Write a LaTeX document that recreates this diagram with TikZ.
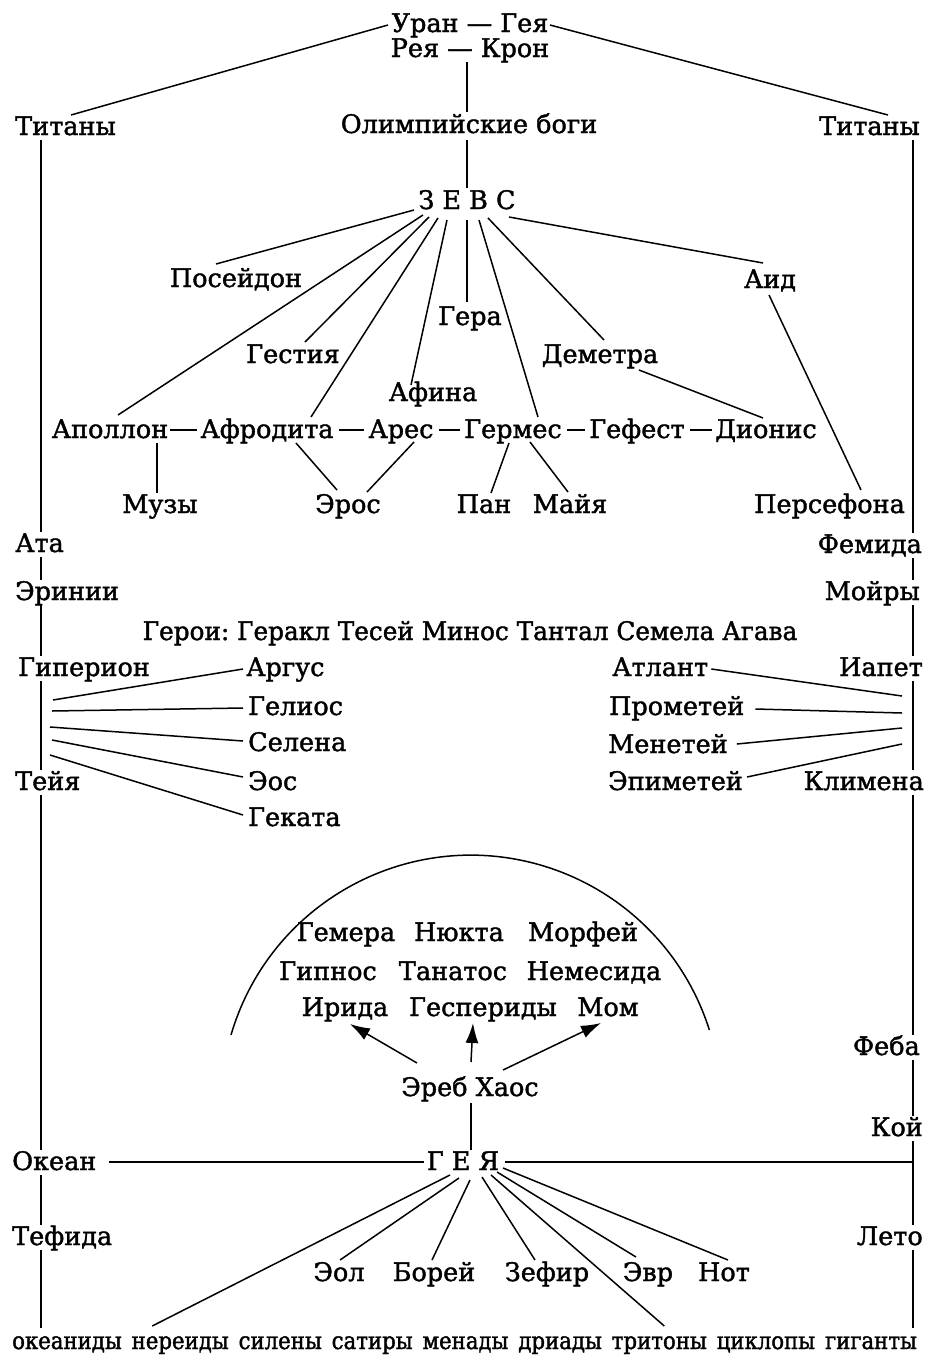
\documentclass[tikz,border=0pt]{standalone}
\usepackage{fontspec}
\setmainfont{DejaVu Serif}[FakeBold=1.5]
\newfontfamily\condf{DejaVu Serif}[FakeStretch=0.885,FakeBold=1.5]
\newfontfamily\geroif{DejaVu Serif}[FakeStretch=0.97,FakeBold=1.5]
\usetikzlibrary{arrows.meta}
\newcommand\myfsz{\fontsize{25.5}{30}\selectfont}
\frenchspacing
\begin{document}
\begin{tikzpicture}[x=1pt,y=1pt,
  lbl/.style={inner sep=0pt,font=\myfsz,anchor=base},
  lw/.style={lbl,anchor=base west},
  le/.style={lbl,anchor=base east},
  bot/.style={inner sep=0pt,font=\condf\fontsize{24}{28}\selectfont,anchor=base west},
  con/.style={draw=black,line width=1.5pt},
  arr/.style={con,-{Latex[length=20pt,width=13pt]}}]
\fill[white] (0,-1360) rectangle (926,0);
\useasboundingbox (0,-1360) rectangle (926,0);
% top
\node[lbl] (uran) at (470,-32) {Уран — Гея};
\node[lbl] (reya) at (470,-57) {Рея — Крон};
\node[lw] (titL) at (15,-135) {Титаны};
\node[lbl] (olymp) at (469,-133) {Олимпийские боги};
\node[le] (titR) at (920,-135) {Титаны};
\node[lbl] (zeus) at (467,-209) {З Е В С};
\node[lbl] (posei) at (236,-287) {Посейдон};
\node[lbl] (aid) at (770,-288) {Аид};
\node[lbl] (gera) at (470,-325) {Гера};
\node[lbl] (gestia) at (293,-363) {Гестия};
\node[lbl] (demetra) at (600,-363) {Деметра};
\node[lbl] (afina) at (433,-401) {Афина};
\node[lbl] (apollon) at (110,-438) {Аполлон};
\node[lbl] (afrodita) at (267,-438) {Афродита};
\node[lbl] (ares) at (401,-438) {Арес};
\node[lbl] (germes) at (513,-438) {Гермес};
\node[lbl] (gefest) at (637,-438) {Гефест};
\node[lbl] (dionis) at (766,-438) {Дионис};
\node[lbl] (muzy) at (160,-513) {Музы};
\node[lbl] (eros) at (348,-513) {Эрос};
\node[lbl] (pan) at (484,-513) {Пан};
\node[lbl] (maya) at (570,-513) {Майя};
\node[le] (persefona) at (905,-513) {Персефона};
\node[lw] (ata) at (15,-552) {Ата};
\node[le] (femida) at (922,-553) {Фемида};
\node[lw] (erinii) at (15,-600) {Эринии};
\node[le] (moiry) at (920,-600) {Мойры};
\node[lbl,font=\geroif\myfsz] (geroi) at (470,-640) {Герои: Геракл Тесей Минос Тантал Семела Агава};
\node[lw] (giperion) at (18,-676) {Гиперион};
\node[lw] (argus) at (246,-676) {Аргус};
\node[lw] (atlant) at (612,-676) {Атлант};
\node[le] (iapet) at (923,-676) {Иапет};
\node[lw] (gelios) at (248,-715) {Гелиос};
\node[lw] (prometey) at (609,-715) {Прометей};
\node[lw] (selena) at (248,-751) {Селена};
\node[lw] (menetey) at (608,-753) {Менетей};
\node[lw] (teiya) at (15,-790) {Тейя};
\node[lw] (eos) at (248,-790) {Эос};
\node[lw] (epimetey) at (608,-790) {Эпиметей};
\node[le] (klimena) at (924,-790) {Климена};
\node[lw] (gekata) at (248,-826) {Геката};
% arc group
\node[lbl] (gemera) at (346,-941) {Гемера};
\node[lbl] (nyukta) at (459,-941) {Нюкта};
\node[lbl] (morfey) at (583,-941) {Морфей};
\node[lbl] (gipnos) at (328,-980) {Гипнос};
\node[lbl] (tanatos) at (453,-980) {Танатос};
\node[lbl] (nemesida) at (594,-980) {Немесида};
\node[lbl] (irida) at (345,-1016) {Ирида};
\node[lbl] (gesperidy) at (483,-1016) {Геспериды};
\node[lbl] (mom) at (608,-1016) {Мом};
\node[le] (feba) at (920,-1055) {Феба};
\node[lbl] (ereb) at (470,-1096) {Эреб Хаос};
\node[le] (koy) at (923,-1136) {Кой};
\node[lw] (okean) at (12,-1170) {Океан};
\node[lbl] (gea) at (463,-1170) {Г Е Я};
\node[lw] (tefida) at (12,-1245) {Тефида};
\node[le] (leto) at (923,-1245) {Лето};
\node[lbl] (eol) at (339,-1281) {Эол};
\node[lbl] (borey) at (434,-1281) {Борей};
\node[lbl] (zefir) at (547,-1281) {Зефир};
\node[lbl] (evr) at (648,-1281) {Эвр};
\node[lbl] (notus) at (724,-1281) {Нот};
\node[bot] (okeanidy) at (12,-1349) {океаниды};
\node[bot] (nereidy) at ([xshift=9.5pt]okeanidy.base east) {нереиды};
\node[bot] (sileny) at ([xshift=9.5pt]nereidy.base east) {силены};
\node[bot] (satiry) at ([xshift=9.5pt]sileny.base east) {сатиры};
\node[bot] (menady) at ([xshift=9.5pt]satiry.base east) {менады};
\node[bot] (driady) at ([xshift=9.5pt]menady.base east) {дриады};
\node[bot] (tritony) at ([xshift=9.5pt]driady.base east) {тритоны};
\node[bot] (tsiklopy) at ([xshift=9.5pt]tritony.base east) {циклопы};
\node[bot] (giganty) at ([xshift=9.5pt]tsiklopy.base east) {гиганты};
\coordinate (botL) at (41,-1328);
\coordinate (botR) at (913,-1328);
\coordinate (rj) at (913,-1162);
% top connectors
\draw[con] ([shift={(-82,7)}]uran.base) -- ([shift={(56,20)}]titL.base west);
\draw[con] ([shift={(80,7)}]uran.base) -- ([shift={(-32,20)}]titR.base east);
\draw[con] ([shift={(-3,-5)}]reya.base) -- ([shift={(-2,21)}]olymp.base);
\draw[con] ([shift={(-2,-7)}]olymp.base) -- ([shift={(0,21)}]zeus.base);
% zeus
\draw[con] ([shift={(-53,-1)}]zeus.base) -- ([shift={(-20,23)}]posei.base);
\draw[con] ([shift={(-44,-6)}]zeus.base) -- ([shift={(8,23)}]apollon.base);
\draw[con] ([shift={(-38,-8)}]zeus.base) -- ([shift={(12,21)}]gestia.base);
\draw[con] ([shift={(-29,-9)}]zeus.base) -- ([shift={(44,21)}]afrodita.base);
\draw[con] ([shift={(-20,-11)}]zeus.base) -- ([shift={(-22,16)}]afina.base);
\draw[con] ([shift={(0,-11)}]zeus.base) -- ([shift={(-3,23)}]gera.base);
\draw[con] ([shift={(12,-11)}]zeus.base) -- ([shift={(25,21)}]germes.base);
\draw[con] ([shift={(21,-9)}]zeus.base) -- ([shift={(4,23)}]demetra.base);
\draw[con] ([shift={(42,-8)}]zeus.base) -- ([shift={(-7,25)}]aid.base);
\draw[con] ([shift={(39,-7)}]demetra.base) -- ([shift={(-3,20)}]dionis.base);
\draw[con] ([shift={(-1,-7)}]aid.base) -- ([shift={(-44,23)}]persefona.base east);
% row dashes
\draw[con] ([shift={(2,8)}]apollon.base east) -- ([shift={(-3,8)}]afrodita.base west);
\draw[con] ([shift={(5,8)}]afrodita.base east) -- ([shift={(-4,8)}]ares.base west);
\draw[con] ([shift={(5,8)}]ares.base east) -- ([shift={(-4,8)}]germes.base west);
\draw[con] ([shift={(5,8)}]germes.base east) -- ([shift={(-4,8)}]gefest.base west);
\draw[con] ([shift={(5,8)}]gefest.base east) -- ([shift={(-3,8)}]dionis.base west);
% children
\draw[con] ([shift={(47,-5)}]apollon.base) -- ([shift={(-3,20)}]muzy.base);
\draw[con] ([shift={(29,-5)}]afrodita.base) -- ([shift={(-11,23)}]eros.base);
\draw[con] ([shift={(13,-4)}]ares.base) -- ([shift={(19,21)}]eros.base);
\draw[con] ([shift={(-4,-5)}]germes.base) -- ([shift={(7,20)}]pan.base);
\draw[con] ([shift={(17,-4)}]germes.base) -- ([shift={(-2,21)}]maya.base);
% left vertical
\draw[con] ([shift={(26,-5)}]titL.base west) -- ([shift={(26,20)}]ata.base west);
\draw[con] ([shift={(26,-5)}]ata.base west) -- ([shift={(26,20)}]erinii.base west);
\draw[con] ([shift={(26,-5)}]erinii.base west) -- ([shift={(23,20)}]giperion.base west);
\draw[con] ([shift={(23,-5)}]giperion.base west) -- ([shift={(26,20)}]teiya.base west);
\draw[con] ([shift={(26,-5)}]teiya.base west) -- ([shift={(29,20)}]okean.base west);
\draw[con] ([shift={(29,-5)}]okean.base west) -- ([shift={(29,20)}]tefida.base west);
\draw[con] ([shift={(29,-5)}]tefida.base west) -- (botL);
% right vertical
\draw[con] ([shift={(-7,-5)}]titR.base east) -- ([shift={(-9,20)}]femida.base east);
\draw[con] ([shift={(-9,-5)}]femida.base east) -- ([shift={(-7,20)}]moiry.base east);
\draw[con] ([shift={(-7,-5)}]moiry.base east) -- ([shift={(-10,20)}]iapet.base east);
\draw[con] ([shift={(-10,-5)}]iapet.base east) -- ([shift={(-11,20)}]klimena.base east);
\draw[con] ([shift={(-11,-5)}]klimena.base east) -- ([shift={(-7,20)}]feba.base east);
\draw[con] ([shift={(-7,-5)}]feba.base east) -- ([shift={(-10,20)}]koy.base east);
\draw[con] ([shift={(-10,-5)}]koy.base east) -- ([shift={(-10,20)}]leto.base east);
\draw[con] ([shift={(-10,-5)}]leto.base east) -- (botR);
% Hyperion group
\draw[con] ([shift={(35,-24)}]giperion.base west) -- ([shift={(-3,7)}]argus.base west);
\draw[con] ([shift={(34,-35)}]giperion.base west) -- ([shift={(-5,7)}]gelios.base west);
\draw[con] ([shift={(32,-51)}]giperion.base west) -- ([shift={(-5,10)}]selena.base west);
\draw[con] ([shift={(34,-64)}]giperion.base west) -- ([shift={(-5,13)}]eos.base west);
\draw[con] ([shift={(32,-79)}]giperion.base west) -- ([shift={(-5,11)}]gekata.base west);
% Iapetus group
\draw[con] ([shift={(3,7)}]atlant.base east) -- ([shift={(-21,-20)}]iapet.base east);
\draw[con] ([shift={(11,6)}]prometey.base east) -- ([shift={(-21,-37)}]iapet.base east);
\draw[con] ([shift={(9,9)}]menetey.base east) -- ([shift={(-21,-52)}]iapet.base east);
\draw[con] ([shift={(4,13)}]epimetey.base east) -- ([shift={(-21,-68)}]iapet.base east);
% arc
\draw[line width=1.5pt] (231,-1035) arc[start angle=163.7,end angle=17.5,radius=250];
% arrows
\draw[arr] ([shift={(-53,33)}]ereb.base) -- ([shift={(5,-8)}]irida.base);
\draw[arr] ([shift={(1,34)}]ereb.base) -- ([shift={(-10,-7)}]gesperidy.base);
\draw[arr] ([shift={(33,26)}]ereb.base) -- ([shift={(-7,-7)}]mom.base);
\draw[con] ([shift={(1,-7)}]ereb.base) -- ([shift={(8,20)}]gea.base);
\draw[con] ([shift={(12,8)}]okean.base east) -- ([shift={(-3,8)}]gea.base west);
\draw[con] ([shift={(6,8)}]gea.base east) -- (rj);
% Gaia
\draw[con] ([shift={(-13,-5)}]gea.base) -- ([shift={(-28,23)}]nereidy.base);
\draw[con] ([shift={(-4,-8)}]gea.base) -- ([shift={(1,21)}]eol.base);
\draw[con] ([shift={(7,-10)}]gea.base) -- ([shift={(-2,21)}]borey.base);
\draw[con] ([shift={(19,-7)}]gea.base) -- ([shift={(-12,21)}]zefir.base);
\draw[con] ([shift={(28,-5)}]gea.base) -- ([shift={(5,23)}]tritony.base);
\draw[con] ([shift={(34,-2)}]gea.base) -- ([shift={(-12,24)}]evr.base);
\draw[con] ([shift={(40,2)}]gea.base) -- ([shift={(4,21)}]notus.base);
\end{tikzpicture}
\end{document}
